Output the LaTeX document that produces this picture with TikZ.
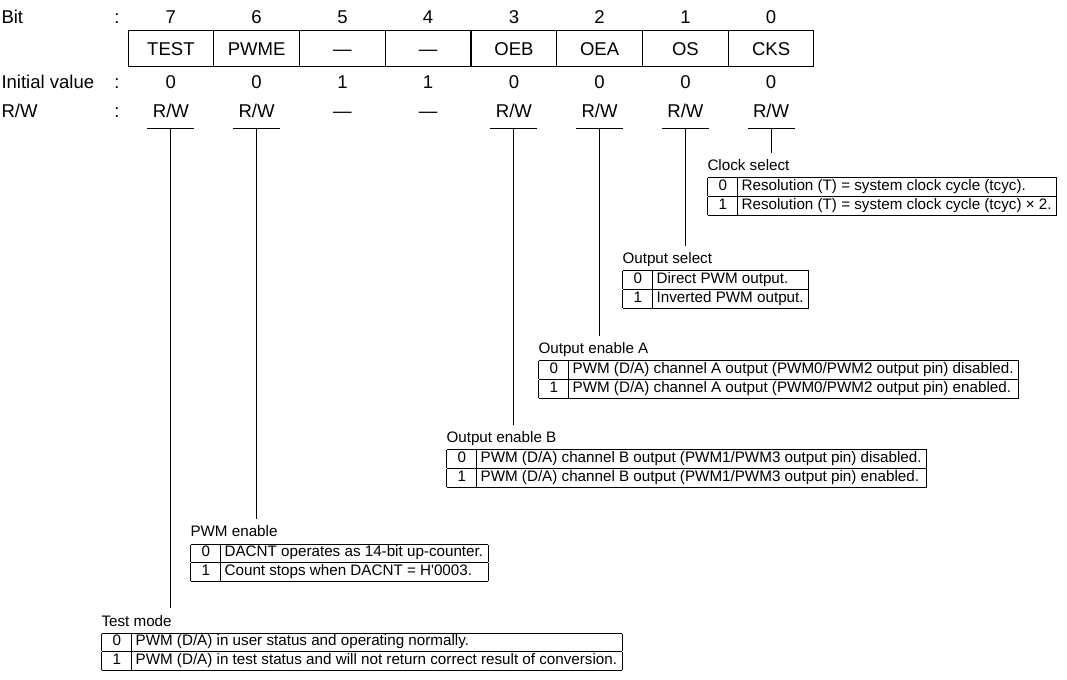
\documentclass[tikz,border=0pt]{standalone}
\usepackage{fontspec}
\setmainfont{Liberation Sans}
\setlength{\arrayrulewidth}{0.75pt}
\newcommand{\hdrfont}{\fontsize{13.9}{16}\selectfont}
\newcommand{\tabfont}{\fontsize{11.4}{13.3}\selectfont}
\newcommand{\regtable}[2]{\renewcommand{\arraystretch}{1}\begin{tabular}{|@{\hspace{8pt}}c@{\hspace{8pt}}|@{\hspace{2.5pt}}l@{\hspace{4pt}}|}\hline 0 & #1\\\hline 1 & #2\\\hline\end{tabular}}
\begin{document}
\begin{tikzpicture}[x=0.75pt,y=-0.75pt,line width=0.75pt,
  hdr/.style={font=\hdrfont,inner sep=0pt,anchor=base},
  rowlbl/.style={font=\hdrfont,inner sep=0pt,anchor=base west},
  cell/.style={draw,font=\hdrfont,inner sep=0pt,minimum width=64.31pt,minimum height=27pt,text height=9.95pt,text depth=0pt},
  lbl/.style={font=\tabfont,inner sep=0pt,anchor=base west},
  tbl/.style={font=\tabfont,inner sep=0pt,anchor=north west},
  conn/.style={line width=0.75pt}]
\useasboundingbox (0,0) rectangle (1067,680);
% row labels
\node[rowlbl] (lbit) at (1,24) {Bit};
\node[hdr] (cbit) at (117,24) {:};
\node[rowlbl] (linit) at (1,89) {Initial value};
\node[hdr] (cinit) at (117,89) {:};
\node[rowlbl] (lrw) at (1,118) {R/W};
\node[hdr] (crw) at (117,118) {:};
% bit numbers
\node[hdr] (b7) at (170.9,24) {7};
\node[hdr] (b6) at (256.6,24) {6};
\node[hdr] (b5) at (342.4,24) {5};
\node[hdr] (b4) at (428.1,24) {4};
\node[hdr] (b3) at (513.9,24) {3};
\node[hdr] (b2) at (599.6,24) {2};
\node[hdr] (b1) at (685.4,24) {1};
\node[hdr] (b0) at (771.1,24) {0};
% register cells
\node[cell] (c7) at (170.9,49) {TEST};
\node[cell] (c6) at (256.6,49) {PWME};
\node[cell] (c5) at (342.4,49) {—};
\node[cell] (c4) at (428.1,49) {—};
\node[cell] (c3) at (513.9,49) {OEB};
\node[cell] (c2) at (599.6,49) {OEA};
\node[cell] (c1) at (685.4,49) {OS};
\node[cell] (c0) at (771.1,49) {CKS};
% initial values
\node[hdr] (i7) at (170.9,89) {0};
\node[hdr] (i6) at (256.6,89) {0};
\node[hdr] (i5) at (342.4,89) {1};
\node[hdr] (i4) at (428.1,89) {1};
\node[hdr] (i3) at (513.9,89) {0};
\node[hdr] (i2) at (599.6,89) {0};
\node[hdr] (i1) at (685.4,89) {0};
\node[hdr] (i0) at (771.1,89) {0};
% R/W
\node[hdr] (r7) at (170.9,118) {R/W};
\node[hdr] (r6) at (256.6,118) {R/W};
\node[hdr] (r5) at (342.4,118) {—};
\node[hdr] (r4) at (428.1,118) {—};
\node[hdr] (r3) at (513.9,118) {R/W};
\node[hdr] (r2) at (599.6,118) {R/W};
\node[hdr] (r1) at (685.4,118) {R/W};
\node[hdr] (r0) at (771.1,118) {R/W};
% underline anchors
\coordinate (u7) at (170.9,129);
\coordinate (u6) at (256.6,129);
\coordinate (u3) at (513.9,129);
\coordinate (u2) at (599.6,129);
\coordinate (u1) at (685.4,129);
\coordinate (u0) at (771.1,129);
\foreach \u in {u7,u6,u3,u2,u1,u0}{\draw[conn] ([xshift=-17.6pt]\u) -- ([xshift=17.6pt]\u);}
% tables
\node[lbl] (l0) at (707,171) {Clock select};
\node[tbl] (t0) at (707,177) {\regtable{Resolution (T) = system clock cycle (tcyc).}{Resolution (T) = system clock cycle (tcyc) × 2.}};
\node[lbl] (l1) at (622,264) {Output select};
\node[tbl] (t1) at (622,270) {\regtable{Direct PWM output.}{Inverted PWM output.}};
\node[lbl] (l2) at (538,354) {Output enable A};
\node[tbl] (t2) at (538,360) {\regtable{PWM (D/A) channel A output (PWM0/PWM2 output pin) disabled.}{PWM (D/A) channel A output (PWM0/PWM2 output pin) enabled.}};
\node[lbl] (l3) at (446,443) {Output enable B};
\node[tbl] (t3) at (446,449) {\regtable{PWM (D/A) channel B output (PWM1/PWM3 output pin) disabled.}{PWM (D/A) channel B output (PWM1/PWM3 output pin) enabled.}};
\node[lbl] (l6) at (190,537) {PWM enable};
\node[tbl] (t6) at (190,543) {\regtable{DACNT operates as 14-bit up-counter.}{Count stops when DACNT = H\textquotesingle 0003.}};
\node[lbl] (l7) at (101,626) {Test mode};
\node[tbl] (t7) at (101,632) {\regtable{PWM (D/A) in user status and operating normally.}{PWM (D/A) in test status and will not return correct result of conversion.}};
% connector ends
\coordinate (e0) at (771.1,153);
\coordinate (e1) at (685.4,246);
\coordinate (e2) at (599.6,336);
\coordinate (e3) at (513.9,425);
\coordinate (e6) at (256.6,519);
\coordinate (e7) at (170.9,608);
\draw[conn] (u0) -- (e0);
\draw[conn] (u1) -- (e1);
\draw[conn] (u2) -- (e2);
\draw[conn] (u3) -- (e3);
\draw[conn] (u6) -- (e6);
\draw[conn] (u7) -- (e7);
\end{tikzpicture}
\end{document}
